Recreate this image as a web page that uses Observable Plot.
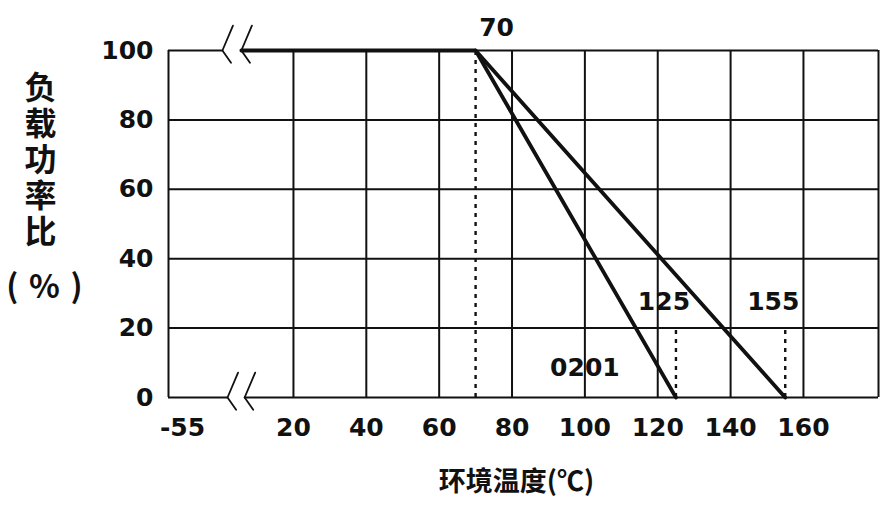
<!DOCTYPE html>
<html><head><meta charset="utf-8">
<script src="https://cdn.jsdelivr.net/npm/d3@7"></script>
<script src="https://cdn.jsdelivr.net/npm/@observablehq/plot@0.6"></script>
<style>html,body{margin:0;padding:0;background:#fff}</style>
</head><body><div id="chart"></div>
<script>
// ---- data ----
const xTicks = [20, 40, 60, 80, 100, 120, 140, 160];
const yTicks = [0, 20, 40, 60, 80, 100];
const yGrid = [20, 40, 60, 80];
const xBreakLabel = "-55";
const xStart = -14.3, xEnd = 180.6;          // axis extent (left edge stands for -55)
const breakTop = [0.5, 5.7];                  // axis-break chevrons on 100% line
const breakBottom = [1.9, 6.6];               // axis-break chevrons on 0% line
const kneeTemp = 70;
const temp0201 = [5.7, 70, 125];
const load0201 = [100, 100, 0];
const tempStd = [70, 155];
const loadStd = [100, 0];
const maxTemps = [125, 155];
const yTitle = "负\n载\n功\n率\n比";
const yUnit = "(\u2004%\u2004)";
const xTitle = "环境温度(℃)";

const line0201 = temp0201.map((t, i) => ({t, p: load0201[i]}));
const lineStd = tempStd.map((t, i) => ({t, p: loadStd[i]}));

const num = {fontFamily: "DejaVu Sans", fontWeight: "bold", fontSize: 25, fill: "#111"};
const cjk = {fontFamily: "Noto Sans CJK SC", fontWeight: "bold", fill: "#111"};
const ink = "#111";
const segShape = {draw(ctx, l) { ctx.moveTo(0, 0); ctx.lineTo(0, -l); }};

function chevrons(xs, yv) {
  return [
    Plot.vector(xs, {x: d => d, y: () => yv, length: 27, rotate: 23, anchor: "start", shape: segShape, stroke: ink, strokeWidth: 1.8}),
    Plot.vector(xs, {x: d => d, y: () => yv, length: 15, rotate: 145, anchor: "start", shape: segShape, stroke: ink, strokeWidth: 1.8})
  ];
}

const chart = Plot.plot({
  width: 895, height: 509,
  marginLeft: 168, marginRight: 17, marginTop: 50, marginBottom: 112,
  x: {domain: [xStart, xEnd], axis: null},
  y: {domain: [0, 100], axis: null},
  style: {background: "#fff", overflow: "visible"},
  marks: [
    // grid
    Plot.ruleX(xTicks, {x: d => d, y1: () => 0, y2: () => 100, stroke: ink, strokeWidth: 2}),
    Plot.ruleY(yGrid, {y: d => d, x1: () => xStart, x2: () => xEnd, stroke: ink, strokeWidth: 2}),
    // frame with breaks
    Plot.ruleX([xStart, xEnd], {x: d => d, y1: () => 0, y2: () => 100, stroke: ink, strokeWidth: 2}),
    Plot.ruleY([100, 0], {y: d => d, x1: () => xStart, x2: d => d === 100 ? breakTop[0] : breakBottom[0], stroke: ink, strokeWidth: 2}),
    Plot.ruleY([100, 0], {y: d => d, x1: d => d === 100 ? breakTop[1] : breakBottom[1], x2: () => xEnd, stroke: ink, strokeWidth: 2}),
    ...chevrons(breakTop, 100),
    ...chevrons(breakBottom, 0),
    // dotted guides
    Plot.ruleX([kneeTemp], {x: d => d, y1: () => 0, y2: () => 100, stroke: ink, strokeWidth: 2.4, strokeDasharray: "4,5"}),
    Plot.ruleX(maxTemps, {x: d => d, y1: () => 0, y2: () => 20, stroke: ink, strokeWidth: 2.4, strokeDasharray: "4,5"}),
    // derating curves
    Plot.line(line0201, {x: "t", y: "p", stroke: ink, strokeWidth: 3.8, strokeLinejoin: "miter"}),
    Plot.line(lineStd, {x: "t", y: "p", stroke: ink, strokeWidth: 3.8}),
    // tick labels
    Plot.text(xTicks, {x: d => d, frameAnchor: "bottom", lineAnchor: "middle", dy: 30, text: d => String(d), ...num}),
    Plot.text([xBreakLabel], {frameAnchor: "bottom-left", lineAnchor: "middle", textAnchor: "middle", dx: 14, dy: 30, text: d => d, ...num}),
    Plot.text(yTicks, {y: d => d, frameAnchor: "left", lineAnchor: "middle", textAnchor: "end", dx: -15, text: d => String(d), ...num}),
    // annotations
    Plot.text([kneeTemp], {x: d => d, y: () => 100, dx: 21, dy: -23, text: d => String(d), ...num}),
    Plot.text(maxTemps, {x: d => d, y: () => 20, dx: -12, dy: -26, text: d => String(d), ...num}),
    Plot.text(["0201"], {x: () => 100, y: () => 0, dy: -30, text: d => d, ...num}),
    // axis titles
    Plot.text([yTitle], {frameAnchor: "top-left", lineAnchor: "top", textAnchor: "middle", dx: -128, dy: 23, text: d => d, lineHeight: 1.125, fontSize: 32, ...cjk}),
    Plot.text([yUnit], {frameAnchor: "top-left", lineAnchor: "middle", textAnchor: "middle", dx: -124, dy: 237, text: d => d, fontSize: 32, ...cjk}),
    Plot.text([xTitle], {frameAnchor: "bottom", lineAnchor: "middle", dx: -7, dy: 85, text: d => d, fontSize: 27, ...cjk})
  ]
});
document.getElementById("chart").appendChild(chart);
</script>
</body></html>
